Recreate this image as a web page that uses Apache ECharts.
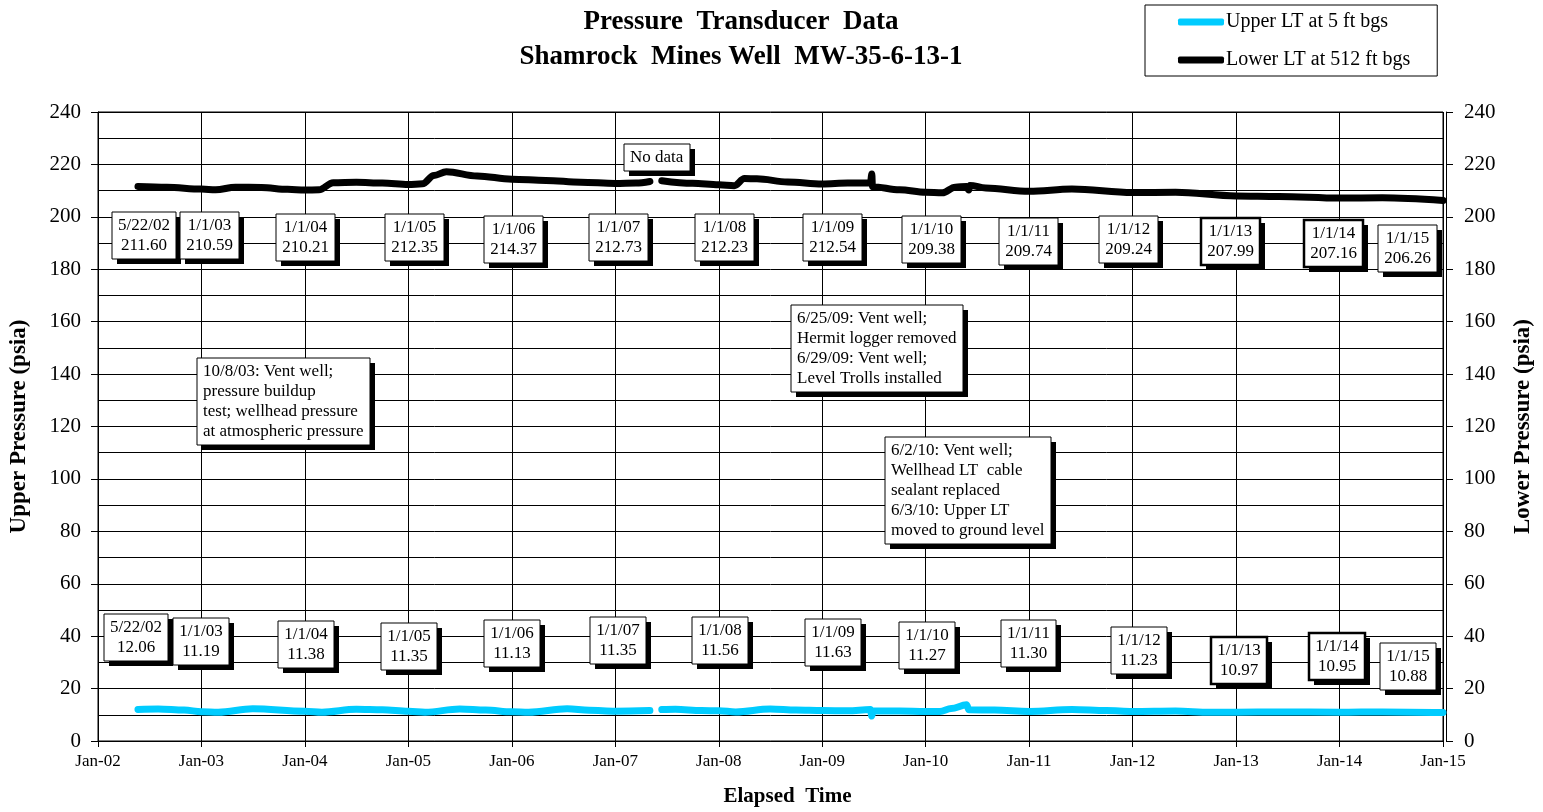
<!DOCTYPE html>
<html>
<head>
<meta charset="utf-8">
<script src="https://cdn.jsdelivr.net/npm/echarts@6/dist/echarts.min.js"></script>
<style>
  html, body { margin: 0; padding: 0; background: #fff; }
  #chart { width: 1543px; height: 812px; }
</style>
</head>
<body>
<div id="chart"></div>
<script>
// ---- data ----
const yearTicks = ['Jan-02','Jan-03','Jan-04','Jan-05','Jan-06','Jan-07','Jan-08',
                   'Jan-09','Jan-10','Jan-11','Jan-12','Jan-13','Jan-14','Jan-15'];

// lower LT (512 ft bgs), psia
const lowerDates = ['2002-05-22','2002-09-01','2003-01-01','2003-02-20','2003-05-01','2003-08-01',
  '2003-11-01','2004-01-01','2004-02-20','2004-04-10','2004-07-01','2004-10-01','2005-01-01',
  '2005-02-20','2005-04-01','2005-05-15','2005-09-01','2006-01-01','2006-05-01','2006-09-01',
  '2007-01-01','2007-03-15','2007-05-03','2007-05-25','2007-06-14','2007-10-01','2008-01-01',
  '2008-02-25','2008-04-01','2008-05-15','2008-09-01','2009-01-01','2009-04-01','2009-06-20',
  '2009-06-25','2009-06-27','2009-10-01','2010-01-01','2010-03-01','2010-04-15','2010-05-25',
  '2010-06-02','2010-06-06','2010-08-01','2011-01-01','2011-06-01','2012-01-01','2012-06-01',
  '2013-01-01','2013-06-01','2014-01-01','2014-06-01','2015-01-01'];
const lowerValues = [211.6,211.3,210.59,210.3,211.3,211.2,
  210.5,210.21,210.3,213.0,213.2,212.9,212.35,
  212.6,215.8,217.2,215.6,214.37,213.9,213.2,
  212.73,212.9,213.5,null,213.8,212.8,212.23,
  211.9,214.6,214.5,213.3,212.54,212.9,212.9,
  216.3,211.5,210.3,209.38,209.2,211.3,211.6,
  210.2,212.0,211.0,209.74,210.6,209.24,209.4,
  207.99,207.8,207.16,207.3,206.26];

// upper LT (5 ft bgs), psia
const upperDates = ['2002-05-22','2002-08-01','2002-11-01','2003-01-01','2003-03-01','2003-07-01',
  '2004-01-01','2004-03-01','2004-07-01','2004-10-01','2005-01-01','2005-03-01','2005-07-01',
  '2005-10-01','2006-01-01','2006-03-01','2006-07-15','2006-10-01','2007-01-01','2007-05-03',
  '2007-05-25','2007-06-14','2007-08-01','2007-11-01','2008-01-01','2008-03-01','2008-07-01',
  '2008-10-01','2009-01-01','2009-04-01','2009-06-20','2009-06-25','2009-06-29','2009-10-01',
  '2010-01-01','2010-02-20','2010-04-01','2010-05-25','2010-06-03','2010-09-01','2011-01-01',
  '2011-06-01','2011-10-01','2012-01-01','2012-06-01','2012-10-01','2013-01-01','2013-06-01',
  '2014-01-01','2014-06-01','2015-01-01'];
const upperValues = [12.06,12.2,11.8,11.19,11.0,12.3,
  11.38,11.0,12.1,11.9,11.35,11.0,12.2,
  11.8,11.13,11.0,12.3,11.7,11.35,11.6,
  null,12.0,12.1,11.6,11.56,11.1,12.2,
  11.8,11.63,11.5,12.0,9.5,11.4,11.4,
  11.27,11.3,12.4,13.8,11.9,11.8,11.30,
  12.0,11.6,11.23,11.4,11.0,10.97,11.1,
  10.95,11.1,10.88];

// values written in the boxes
const readingDates = ['5/22/02','1/1/03','1/1/04','1/1/05','1/1/06','1/1/07','1/1/08',
                      '1/1/09','1/1/10','1/1/11','1/1/12','1/1/13','1/1/14','1/1/15'];
const lowerReadings = [211.60,210.59,210.21,212.35,214.37,212.73,212.23,
                       212.54,209.38,209.74,209.24,207.99,207.16,206.26];
const upperReadings = [12.06,11.19,11.38,11.35,11.13,11.35,11.56,
                       11.63,11.27,11.30,11.23,10.97,10.95,10.88];

const notes = [
  'No data',
  '10/8/03: Vent well;\npressure buildup\ntest; wellhead pressure\nat atmospheric pressure',
  '6/25/09: Vent well;\nHermit logger removed\n6/29/09: Vent well;\nLevel Trolls installed',
  '6/2/10: Vent well;\nWellhead LT  cable\nsealant replaced\n6/3/10: Upper LT\nmoved to ground level'
];

// where the boxes sit, in [year, psia]
const lowerBoxAt = [[2002.44,192.8],[2003.08,192.8],[2004.01,192.3],[2005.06,192.3],[2006.02,191.5],
  [2007.03,192.3],[2008.06,192.3],[2009.10,192.3],[2010.06,191.5],[2010.99,190.4],[2011.96,191.5],
  [2012.95,190.4],[2013.94,190.0],[2014.66,188.1]];
const upperBoxAt = [[2002.37,39.6],[2003.00,37.9],[2004.01,36.7],[2005.01,36.1],[2006.00,37.1],
  [2007.03,38.4],[2008.01,38.4],[2009.10,37.5],[2010.01,36.3],[2010.99,37.1],[2012.06,34.4],
  [2013.03,30.7],[2013.98,32.2],[2014.66,28.4]];
const noteAt = [[2007.08,222.7],[2002.96,129.4],[2008.70,149.7],[2009.61,95.6]];
const heavyBoxes = ['1/1/13','1/1/14'];

// ---- helpers ----
function toYear(s) {
  const [y, m, d] = s.split('-').map(Number);
  const a = Date.UTC(y, 0, 1), b = Date.UTC(y + 1, 0, 1);
  return y + (Date.UTC(y, m - 1, d) - a) / (b - a);
}
function pairs(dates, vals) {
  return dates.map((d, i) => [toYear(d), vals[i]]);
}

const serif = 'Liberation Serif';
const boxFont = '17px "Liberation Serif"';
const measureCtx = document.createElement('canvas').getContext('2d');
measureCtx.font = boxFont;

// a white box with a hard black drop shadow, anchored at a data point
function boxSeries(name, yAxisIndex, at, texts, anchor, weights) {
  const padX = 6, padT = 4, padB = 3, lh = 20;
  return {
    name: name,
    type: 'custom',
    coordinateSystem: 'cartesian2d',
    yAxisIndex: yAxisIndex,
    data: at,
    silent: true,
    clip: false,
    z: 5,
    renderItem: function (params, api) {
      const i = params.dataIndex;
      const pt = api.coord([api.value(0), api.value(1)]);
      const lines = texts[i].split('\n');
      const w = Math.ceil(Math.max.apply(null, lines.map(l => measureCtx.measureText(l).width))) + padX * 2;
      const h = lines.length * lh + padT + padB;
      const x = Math.round(anchor === 'center' ? pt[0] - w / 2 : pt[0]);
      const y = Math.round(pt[1] - h / 2);
      return {
        type: 'group',
        children: [
          { type: 'rect', shape: { x: x + 5, y: y + 5, width: w, height: h }, style: { fill: '#000' } },
          { type: 'rect', shape: { x: x, y: y, width: w, height: h },
            style: { fill: '#fff', stroke: '#000', lineWidth: weights[i] } },
          { type: 'text', style: {
              x: anchor === 'center' ? x + w / 2 : x + padX, y: y + padT,
              text: texts[i], font: boxFont, fill: '#000', lineHeight: lh,
              align: anchor === 'center' ? 'center' : 'left', verticalAlign: 'top' } }
        ]
      };
    }
  };
}

const weightOf = d => heavyBoxes.indexOf(d) >= 0 ? 2.5 : 1;

let myChart = echarts.init(document.getElementById('chart'));

var option = {
  animation: false,
  backgroundColor: '#fff',
  graphic: [
    { type: 'text', x: 741, y: 22, style: { text: 'Pressure  Transducer  Data', textAlign: 'center', textVerticalAlign: 'middle',
      font: 'bold 27px "Liberation Serif"', fill: '#000' } },
    { type: 'text', x: 741, y: 57, style: { text: 'Shamrock  Mines Well  MW-35-6-13-1', textAlign: 'center', textVerticalAlign: 'middle',
      font: 'bold 27px "Liberation Serif"', fill: '#000' } }
  ],
  legend: {
    data: ['Upper LT at 5 ft bgs', 'Lower LT at 512 ft bgs'],
    orient: 'vertical',
    left: 1145,
    top: 5,
    padding: [7, 27, 6, 33],
    itemGap: 18,
    itemWidth: 46,
    itemHeight: 7,
    icon: 'roundRect',
    borderColor: '#000',
    borderWidth: 1,
    textStyle: { fontFamily: serif, fontSize: 20, color: '#000', lineHeight: 20, padding: [0, 0, 0, -3] }
  },
  grid: {
    left: 97, right: 95, top: 112, bottom: 66,
    show: true, borderColor: '#000', borderWidth: 1, backgroundColor: 'transparent'
  },
  xAxis: {
    type: 'value',
    min: 2002, max: 2015, interval: 1,
    name: 'Elapsed  Time',
    nameLocation: 'middle',
    nameGap: 45,
    nameTextStyle: { fontFamily: serif, fontWeight: 'bold', fontSize: 21, color: '#000', padding: [0, 0, 0, 34] },
    axisLine: { lineStyle: { color: '#000', width: 1 } },
    axisTick: { show: true, length: 6, lineStyle: { color: '#000' } },
    axisLabel: {
      fontFamily: serif, fontSize: 17, color: '#000', margin: 12,
      formatter: v => yearTicks[Math.round(v - 2002)]
    },
    splitLine: { show: true, lineStyle: { color: '#000', width: 1 } }
  },
  yAxis: [
    {
      type: 'value', position: 'left',
      min: 0, max: 240, interval: 20,
      name: 'Upper Pressure (psia)',
      nameLocation: 'middle', nameRotate: 90, nameGap: 67,
      nameTextStyle: { fontFamily: serif, fontWeight: 'bold', fontSize: 23, color: '#000' },
      axisLine: { show: true, lineStyle: { color: '#000' } },
      axisTick: { show: true, length: 7, lineStyle: { color: '#000' } },
      axisLabel: { fontFamily: serif, fontSize: 21, color: '#000', margin: 17 },
      minorTick: { show: false, splitNumber: 2 },
      splitLine: { show: true, lineStyle: { color: '#000', width: 1 } },
      minorSplitLine: { show: true, lineStyle: { color: '#000', width: 1 } }
    },
    {
      type: 'value', position: 'right', offset: 3,
      min: 0, max: 240, interval: 20,
      name: 'Lower Pressure (psia)',
      nameLocation: 'middle', nameRotate: 90, nameGap: 66,
      nameTextStyle: { fontFamily: serif, fontWeight: 'bold', fontSize: 23, color: '#000' },
      axisLine: { show: true, lineStyle: { color: '#000' } },
      axisTick: { show: true, length: 7, lineStyle: { color: '#000' } },
      axisLabel: { fontFamily: serif, fontSize: 21, color: '#000', margin: 18 },
      splitLine: { show: false }
    }
  ],
  series: [
    {
      name: 'Upper LT at 5 ft bgs',
      type: 'line',
      yAxisIndex: 0,
      data: pairs(upperDates, upperValues),
      showSymbol: false,
      smooth: 0.35,
      smoothMonotone: 'x',
      connectNulls: false,
      color: '#00CCFF',
      lineStyle: { width: 7, color: '#00CCFF', cap: 'round', join: 'round' },
      z: 3
    },
    {
      name: 'Lower LT at 512 ft bgs',
      type: 'line',
      yAxisIndex: 1,
      data: pairs(lowerDates, lowerValues),
      showSymbol: false,
      smooth: 0.35,
      smoothMonotone: 'x',
      connectNulls: false,
      color: '#000',
      lineStyle: { width: 7, color: '#000', cap: 'round', join: 'round' },
      z: 3
    },
    boxSeries('lowerBoxes', 1, lowerBoxAt,
      readingDates.map((d, i) => d + '\n' + lowerReadings[i].toFixed(2)), 'center',
      readingDates.map(weightOf)),
    boxSeries('upperBoxes', 0, upperBoxAt,
      readingDates.map((d, i) => d + '\n' + upperReadings[i].toFixed(2)), 'center',
      readingDates.map(weightOf)),
    boxSeries('notes', 1, noteAt, notes, 'left', notes.map(() => 1))
  ]
};

myChart.setOption(option);
</script>
</body>
</html>
